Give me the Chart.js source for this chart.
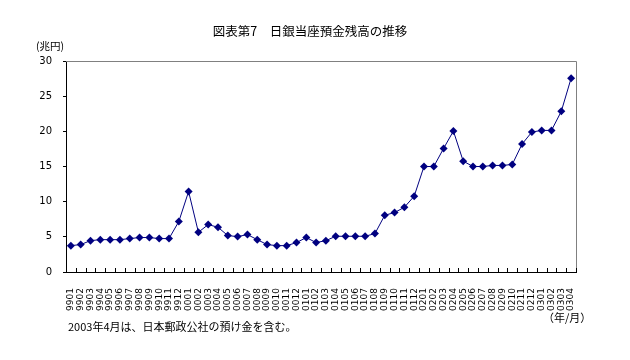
<!DOCTYPE html>
<html>
<head>
<meta charset="utf-8">
<script src="https://cdn.jsdelivr.net/npm/chart.js@4/dist/chart.umd.min.js"></script>
<style>
  html, body { margin: 0; padding: 0; background: #fff; }
  #wrap { position: relative; width: 630px; height: 360px; }
  canvas { position: absolute; left: 0; top: 0; }
  .t { position: absolute; font-family: "Noto Sans CJK JP", sans-serif; color: #000; white-space: nowrap; line-height: 1; }
</style>
</head>
<body>
<div id="wrap">
  <canvas id="c" width="630" height="360"></canvas>
  <div class="t" style="left:0;width:620px;text-align:center;top:25px;font-size:12.5px;">図表第7　日銀当座預金残高の推移</div>
  <div class="t" style="left:36px;top:41px;font-size:10.5px;">(兆円)</div>
  <div class="t" style="left:543px;top:312px;font-size:11px;">（年/月）</div>
  <div class="t" style="left:68px;top:321px;font-size:11px;">2003年4月は、日本郵政公社の預け金を含む。</div>
</div>
<script>
const categories = [
  "9901","9902","9903","9904","9905","9906","9907","9908","9909","9910","9911","9912",
  "0001","0002","0003","0004","0005","0006","0007","0008","0009","0010","0011","0012",
  "0101","0102","0103","0104","0105","0106","0107","0108","0109","0110","0111","0112",
  "0201","0202","0203","0204","0205","0206","0207","0208","0209","0210","0211","0212",
  "0301","0302","0303","0304"
];
const balances = [
  3.75, 3.9, 4.46, 4.6, 4.6, 4.6, 4.75, 4.9, 4.9, 4.75, 4.75, 7.17,
  11.44, 5.65, 6.74, 6.36, 5.18, 5.03, 5.32, 4.6, 3.9, 3.75, 3.75, 4.18,
  4.9, 4.18, 4.46, 5.08, 5.08, 5.08, 5.08, 5.46, 8.07, 8.45, 9.2, 10.78,
  15.0, 15.0, 17.57, 20.04, 15.76, 15.0, 15.0, 15.15, 15.15, 15.29, 18.19, 19.9,
  20.13, 20.13, 22.84, 27.54
];
const yTicks = [0, 5, 10, 15, 20, 25, 30];

const framePlugin = {
  id: 'frame',
  afterDraw(chart) {
    const ctx = chart.ctx, a = chart.chartArea, xs = chart.scales.x;
    ctx.save();
    ctx.strokeStyle = '#808080';
    ctx.lineWidth = 1;
    ctx.beginPath();
    ctx.moveTo(a.left, a.top + 0.5);
    ctx.lineTo(a.right + 0.5, a.top + 0.5);
    ctx.lineTo(a.right + 0.5, a.bottom);
    ctx.stroke();
    ctx.strokeStyle = '#000';
    const half = (xs.getPixelForValue(1) - xs.getPixelForValue(0)) / 2;
    ctx.beginPath();
    for (let i = 0; i <= categories.length; i++) {
      const x = Math.round(xs.getPixelForValue(i) - half) + 0.5;
      ctx.moveTo(x, a.bottom);
      ctx.lineTo(x, a.bottom - 4);
    }
    ctx.stroke();
    ctx.restore();
  }
};

new Chart(document.getElementById('c'), {
  type: 'line',
  data: {
    labels: categories,
    datasets: [{
      data: balances,
      borderColor: '#000080',
      backgroundColor: '#000080',
      borderWidth: 1,
      pointStyle: 'rectRot',
      pointRadius: 4,
      pointBorderWidth: 0,
      tension: 0,
      fill: false
    }]
  },
  options: {
    responsive: false,
    animation: false,
    devicePixelRatio: 1,
    layout: { padding: { top: 61, right: 54, left: 0, bottom: 0 } },
    plugins: { legend: { display: false }, tooltip: { enabled: false } },
    scales: {
      x: {
        offset: true,
        grid: { display: false, offset: true },
        border: { display: true, color: '#000', width: 1 },
        ticks: {
          autoSkip: false, minRotation: 90, maxRotation: 90, padding: 8,
          color: '#000', font: { family: 'DejaVu Sans', size: 9 }
        },
        afterFit(s) { s.height = 88; }
      },
      y: {
        min: 0, max: 30,
        afterBuildTicks(s) { s.ticks = yTicks.map(v => ({ value: v })); },
        grid: { drawOnChartArea: false, drawTicks: true, tickLength: 3, color: '#000' },
        border: { display: true, color: '#000', width: 1 },
        ticks: { padding: 11, color: '#000', font: { family: 'DejaVu Sans', size: 10 } },
        afterFit(s) { s.width = 66; }
      }
    }
  },
  plugins: [framePlugin]
});
</script>
</body>
</html>
